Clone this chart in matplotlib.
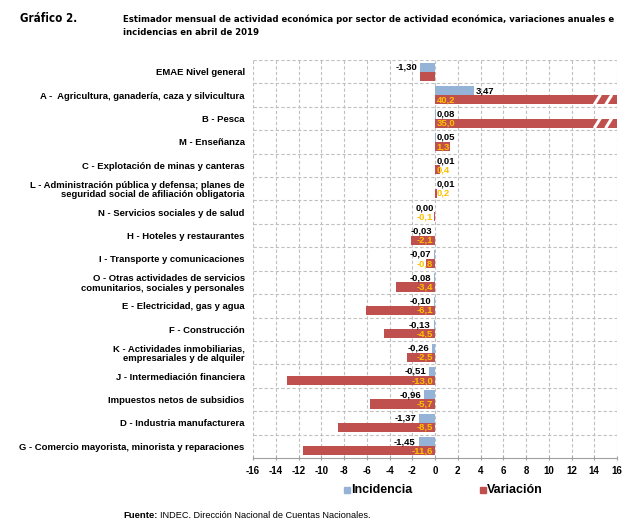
import matplotlib
matplotlib.use("Agg")
import matplotlib.pyplot as plt
from matplotlib import font_manager
import numpy as np

categories = [
    "EMAE Nivel general",
    "A -  Agricultura, ganadería, caza y silvicultura",
    "B - Pesca",
    "M - Enseñanza",
    "C - Explotación de minas y canteras",
    "L - Administración pública y defensa; planes de\nseguridad social de afiliación obligatoria",
    "N - Servicios sociales y de salud",
    "H - Hoteles y restaurantes",
    "I - Transporte y comunicaciones",
    "O - Otras actividades de servicios\ncomunitarios, sociales y personales",
    "E - Electricidad, gas y agua",
    "F - Construcción",
    "K - Actividades inmobiliarias,\nempresariales y de alquiler",
    "J - Intermediación financiera",
    "Impuestos netos de subsidios",
    "D - Industria manufacturera",
    "G - Comercio mayorista, minorista y reparaciones",
]
incidencia = [-1.30, 3.47, 0.08, 0.05, 0.01, 0.01, 0.00, -0.03, -0.07, -0.08,
              -0.10, -0.13, -0.26, -0.51, -0.96, -1.37, -1.45]
variacion = [-1.3, 40.2, 35.0, 1.3, 0.4, 0.2, -0.1, -2.1, -0.8, -3.4,
             -6.1, -4.5, -2.5, -13.0, -5.7, -8.5, -11.6]
show_var_label = [False] + [True] * 16
xticks = list(range(-16, 17, 2))

FAM = ['Liberation Sans', 'DejaVu Sans']
BLUE = '#95B3D7'
RED = '#C0504D'
ORANGE = '#FFC000'

cond = None
for f in font_manager.fontManager.ttflist:
    if 'Condensed' in f.fname and 'DejaVuSans' in f.fname and 'Bold' in f.fname and 'Oblique' not in f.fname:
        cond = f.fname
        break
if cond:
    head_kw = dict(fontproperties=font_manager.FontProperties(fname=cond, size=8.3))
    title_kw = dict(fontproperties=font_manager.FontProperties(fname=cond, size=6.8))
else:
    head_kw = dict(fontsize=7.4, fontweight='bold', family=FAM)
    title_kw = dict(fontsize=6.1, fontweight='bold', family=FAM)

fig = plt.figure(figsize=(6.37, 5.28), dpi=100)
ax = fig.add_axes([253/637, 1 - 458/528, 364/637, 398/528])

n = len(categories)
y = np.arange(n)
h = 0.39
XMAX = 16
ax.barh(y - h/2, incidencia, height=h, color=BLUE, zorder=3)
ax.barh(y + h/2, variacion, height=h, color=RED, zorder=3)

def fmt(v, d):
    return f"{v:.{d}f}".replace('.', ',')

for i in range(n):
    inc = incidencia[i]
    var = variacion[i]
    if inc < 0:
        ax.text(inc - 0.25, y[i] - h/2, fmt(inc, 2), ha='right', va='center',
                fontsize=6.8, fontweight='bold', family=FAM, color='black', zorder=5)
    elif inc == 0:
        ax.text(-0.05, y[i] - h/2, fmt(inc, 2), ha='right', va='center',
                fontsize=6.8, fontweight='bold', family=FAM, color='black', zorder=5)
    else:
        ax.text(inc + 0.15 if inc > 0.5 else 0.15, y[i] - h/2, fmt(inc, 2),
                ha='left', va='center',
                fontsize=6.8, fontweight='bold', family=FAM, color='black', zorder=5)
    if show_var_label[i]:
        if var < 0:
            ax.text(-0.15, y[i] + h/2, fmt(var, 1), ha='right', va='center',
                    fontsize=6.8, fontweight='bold', family=FAM, color=ORANGE, zorder=5)
        else:
            ax.text(0.15, y[i] + h/2, fmt(var, 1), ha='left', va='center',
                    fontsize=6.8, fontweight='bold', family=FAM, color=ORANGE, zorder=5)
    if var > XMAX:
        for x0 in (14.0, 15.0):
            ax.plot([x0, x0 + 0.55], [y[i] + h + 0.02, y[i] - 0.02],
                    color='white', lw=2.2, zorder=4, solid_capstyle='butt')

ax.set_xlim(-16, 16)
ax.set_ylim(n - 0.5, -0.5)
ax.set_xticks(xticks)
ax.set_xticklabels([str(t) for t in xticks], fontsize=7, fontweight='bold', family=FAM)
ax.set_yticks(y)
ax.set_yticklabels(categories, fontsize=6.8, fontweight='bold', family=FAM, linespacing=1.1)
ax.tick_params(axis='y', length=0, pad=6)
ax.tick_params(axis='x', length=3, direction='inout', color='#A0A0A0', pad=4)

for xv in xticks:
    ax.axvline(xv, color='#C0C0C0', lw=0.8, ls=(0, (3, 2)), zorder=1)
for k in range(n):
    ax.axhline(k - 0.5, color='#C0C0C0', lw=0.8, ls=(0, (3, 2)), zorder=1)

for s in ('top', 'right', 'left'):
    ax.spines[s].set_visible(False)
ax.spines['bottom'].set_color('#A0A0A0')
ax.spines['bottom'].set_linewidth(0.8)

# legend
fig.patches.append(plt.Rectangle((344/637, 1 - 493/528), 6/637, 6/528, color=BLUE,
                                 transform=fig.transFigure, figure=fig))
fig.text(351/637, 1 - 490/528, "Incidencia", fontsize=9, fontweight='bold', family=FAM, va='center', ha='left')
fig.patches.append(plt.Rectangle((480/637, 1 - 493/528), 6/637, 6/528, color=RED,
                                 transform=fig.transFigure, figure=fig))
fig.text(487/637, 1 - 490/528, "Variación", fontsize=9, fontweight='bold', family=FAM, va='center', ha='left')

# titles
fig.text(20/637, 1 - 18/528, "Gráfico 2.", va='center', ha='left', **head_kw)
fig.text(123/637, 1 - 26/528,
         "Estimador mensual de actividad económica por sector de actividad económica, variaciones anuales e\nincidencias en abril de 2019",
         va='center', ha='left', linespacing=1.5, **title_kw)

# source
fig.text(123/637, 1 - 515/528, "Fuente:", fontsize=6.8, fontweight='bold', family=FAM, va='center', ha='left')
fig.text(160/637, 1 - 515/528, "INDEC. Dirección Nacional de Cuentas Nacionales.", fontsize=6.6, family=FAM, va='center', ha='left')

fig.savefig("out.png", dpi=100)
